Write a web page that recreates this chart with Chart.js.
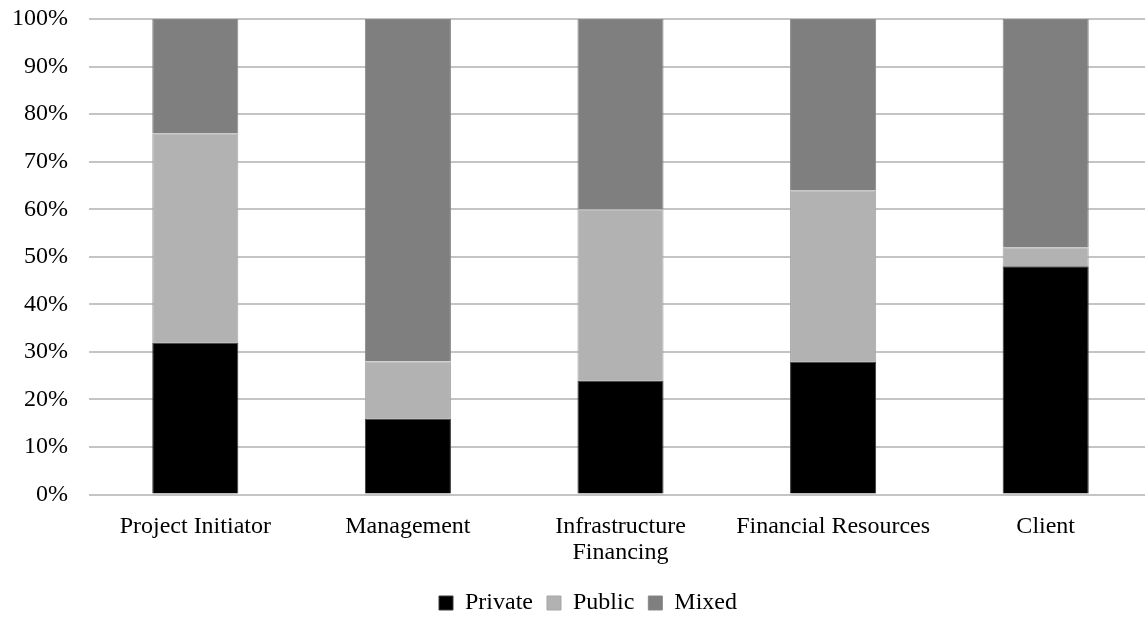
<!DOCTYPE html>
<html>
<head>
<meta charset="utf-8">
<script src="https://cdn.jsdelivr.net/npm/chart.js@4/dist/chart.umd.min.js"></script>
<style>
  html, body { margin: 0; padding: 0; background: #fff; overflow: hidden; }
  #wrap { width: 1152px; height: 619px; }
</style>
</head>
<body>
<div id="wrap"><canvas id="chart"></canvas></div>
<script>
const categories = ['Project Initiator', 'Management', ['Infrastructure', 'Financing'], 'Financial Resources', 'Client']
const privateShare = [32, 16, 24, 28, 48]
const publicShare = [44, 12, 36, 36, 4]
const mixedShare = [24, 72, 40, 36, 48]

const font = { family: '"Liberation Serif", "Times New Roman", serif', size: 24 }

const data = {
    labels: categories,
    datasets: [
        { label: 'Private', data: privateShare, backgroundColor: '#000000', borderColor: '#3a3a3a' },
        { label: 'Public', data: publicShare, backgroundColor: '#b2b2b2', borderColor: '#a6a6a6' },
        { label: 'Mixed', data: mixedShare, backgroundColor: '#7f7f7f', borderColor: '#888888' }
    ]
}

// nudge the legend a bit to the right, like the original
const legendShift = {
    id: 'legendShift',
    afterLayout(chart) {
        chart.legend.left += 6
        chart.legend.right += 6
    }
}

const config = {
    type: 'bar',
    data: data,
    plugins: [legendShift],
    options: {
        responsive: true,
        maintainAspectRatio: false,
        animation: false,
        datasets: {
            bar: {
                barPercentage: 1,
                categoryPercentage: 0.405,
                borderWidth: 1
            }
        },
        layout: {
            padding: { top: 19, left: 12, right: 0, bottom: -6 }
        },
        scales: {
            x: {
                stacked: true,
                grid: { display: false },
                border: { display: false },
                ticks: { color: '#000', font: { ...font, lineHeight: 1.05 }, maxRotation: 0, padding: 12 }
            },
            y: {
                stacked: true,
                min: 0,
                max: 100,
                ticks: {
                    stepSize: 10,
                    color: '#000',
                    font: font,
                    padding: 0,
                    callback: v => v + '%'
                },
                grid: {
                    color: '#c4c4c4',
                    lineWidth: 2,
                    drawTicks: true,
                    tickLength: 21,
                    tickColor: 'rgba(0,0,0,0)'
                },
                border: { display: false }
            }
        },
        plugins: {
            legend: {
                position: 'bottom',
                labels: {
                    color: '#000',
                    font: font,
                    boxWidth: 14,
                    boxHeight: 14,
                    padding: 14
                }
            },
            tooltip: { enabled: false }
        }
    }
}

new Chart(document.getElementById('chart'), config)
</script>
</body>
</html>
